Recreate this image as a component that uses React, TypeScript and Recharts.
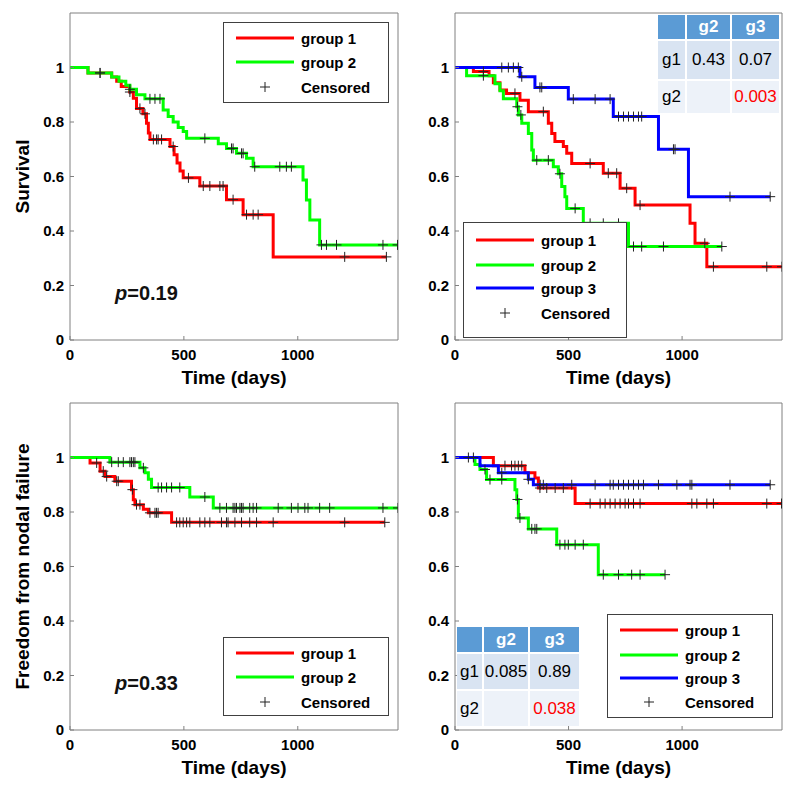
import React from "react";
import { ComposedChart, Line, Scatter, XAxis, YAxis, Legend } from "recharts";

// ---- data: [day, survival] step points ----

// overall survival, 2 groups (top left)
const osTwoG1 = [[0, 1], [79, 0.98], [183, 0.965], [205, 0.95], [225, 0.93], [262, 0.91], [278, 0.887], [292, 0.85], [320, 0.83], [336, 0.795], [344, 0.76], [351, 0.736], [439, 0.71], [457, 0.68], [470, 0.65], [483, 0.62], [497, 0.595], [570, 0.565], [687, 0.515], [760, 0.46], [892, 0.305], [1390, 0.305]];
const osTwoG2 = [[0, 1], [79, 0.98], [183, 0.965], [215, 0.95], [245, 0.935], [263, 0.92], [292, 0.9], [329, 0.885], [409, 0.844], [431, 0.82], [453, 0.8], [475, 0.78], [497, 0.765], [512, 0.74], [651, 0.72], [687, 0.703], [731, 0.685], [775, 0.667], [804, 0.636], [1023, 0.587], [1038, 0.514], [1053, 0.44], [1096, 0.349], [1440, 0.349]];
const osTwoG1Cens = [132, 263, 307, 329, 366, 380, 387, 402, 453, 520, 585, 614, 658, 672, 716, 775, 804, 826, 1206, 1389];
const osTwoG2Cens = [132, 263, 351, 373, 395, 592, 709, 716, 753, 760, 811, 921, 950, 972, 1104, 1126, 1170, 1374, 1438];

// overall survival, 3 groups (top right)
const osThreeG1 = [[0, 1], [81, 0.985], [150, 0.97], [169, 0.944], [198, 0.917], [227, 0.905], [286, 0.88], [323, 0.838], [411, 0.795], [426, 0.758], [440, 0.728], [477, 0.71], [492, 0.685], [514, 0.648], [653, 0.612], [727, 0.557], [793, 0.495], [1035, 0.428], [1057, 0.355], [1109, 0.269], [1440, 0.269]];
const osThreeG2 = [[0, 1], [51, 0.97], [176, 0.94], [198, 0.915], [213, 0.885], [272, 0.856], [279, 0.826], [294, 0.795], [323, 0.758], [338, 0.697], [345, 0.66], [433, 0.636], [455, 0.61], [470, 0.563], [484, 0.526], [492, 0.483], [565, 0.428], [764, 0.343], [1175, 0.343]];
const osThreeG3 = [[0, 1], [286, 0.966], [352, 0.927], [499, 0.884], [697, 0.82], [896, 0.7], [1028, 0.526], [1388, 0.526]];
const osThreeG1Cens = [125, 264, 389, 595, 675, 712, 756, 815, 1100, 1138, 1373, 1440];
const osThreeG2Cens = [125, 275, 290, 360, 411, 462, 529, 595, 653, 720, 786, 822, 918, 1175];
const osThreeG3Cens = [206, 235, 257, 279, 294, 374, 382, 521, 617, 683, 720, 742, 764, 786, 808, 822, 962, 969, 1211, 1388];

// freedom from nodal failure, 2 groups (bottom left)
const nfTwoG1 = [[0, 1], [88, 0.98], [132, 0.95], [154, 0.93], [197, 0.913], [270, 0.882], [278, 0.845], [285, 0.827], [322, 0.81], [344, 0.797], [446, 0.762], [1382, 0.762]];
const nfTwoG2 = [[0, 1], [175, 0.983], [307, 0.962], [329, 0.944], [344, 0.92], [358, 0.89], [526, 0.855], [629, 0.815], [1440, 0.815]];
const nfTwoG1Cens = [117, 146, 161, 205, 212, 274, 292, 307, 351, 373, 380, 387, 468, 482, 497, 512, 526, 570, 592, 614, 665, 687, 694, 724, 753, 789, 819, 892, 1206, 1382];
const nfTwoG2Cens = [183, 212, 234, 263, 270, 278, 285, 322, 387, 402, 424, 446, 482, 592, 658, 687, 716, 724, 731, 746, 753, 760, 789, 804, 819, 914, 972, 1001, 1031, 1045, 1096, 1140, 1374, 1440];

// freedom from nodal failure, 3 groups (bottom right)
const nfThreeG1 = [[0, 1], [169, 0.97], [308, 0.944], [352, 0.925], [367, 0.888], [529, 0.831], [1440, 0.831]];
const nfThreeG2 = [[0, 1], [88, 0.974], [110, 0.956], [139, 0.919], [264, 0.882], [272, 0.846], [279, 0.778], [323, 0.738], [448, 0.68], [631, 0.57], [925, 0.57]];
const nfThreeG3 = [[0, 1], [110, 0.97], [191, 0.944], [323, 0.92], [345, 0.9], [1388, 0.9]];
const nfThreeG1Cens = [220, 249, 264, 279, 294, 374, 404, 441, 477, 595, 639, 661, 683, 705, 727, 749, 764, 786, 815, 1043, 1065, 1109, 1138, 1373, 1438];
const nfThreeG2Cens = [132, 154, 206, 275, 286, 338, 352, 360, 462, 484, 499, 529, 565, 653, 720, 778, 815, 925];
const nfThreeG3Cens = [59, 81, 206, 323, 375, 389, 514, 617, 683, 697, 720, 742, 764, 786, 808, 830, 896, 977, 1035, 1043, 1211, 1388];

// log-rank p values
const pTwoOS = "0.19";
const pTwoNF = "0.33";
const tableCols = ["", "g2", "g3"];
const osPairwise = [["g1", "0.43", "0.07"], ["g2", "", "0.003"]];
const nfPairwise = [["g1", "0.085", "0.89"], ["g2", "", "0.038"]];

const X_TICKS = [0, 500, 1000];
const Y_TICKS = [0, 0.2, 0.4, 0.6, 0.8, 1];
const T_MAX = 1440;

const FONT = '"Liberation Sans", Arial, Helvetica, sans-serif';
const COLORS = ["#ff0000", "#00ff00", "#0000ff"];
const BOX = "#808080";

const toPts = (curve: number[][]) => curve.map(([t, s]) => ({ t, s }));

// survival value of the curve at time t (step function)
const valueAt = (curve: number[][], t: number) => {
    let s = curve[0][1];
    for (const [ct, cs] of curve) if (ct <= t) s = cs;
    return s;
};

const plusShape = (p: any) => (
    <path d={`M${p.cx - 5},${p.cy}h10M${p.cx},${p.cy - 5}v10`} stroke="#222" strokeWidth={1} fill="none" />
);

function LegendBox({ w, h, rows, groups }: { w: number; h: number; rows: number[]; groups: number }) {
    return (
        <svg width={w} height={h} style={{ display: "block" }}>
            <rect x={0.5} y={0.5} width={w - 1} height={h - 1} fill="#fff" stroke="#404040" />
            {rows.map((ry, i) => (
                <g key={i} fontFamily={FONT} fontWeight="bold" fontSize={15}>
                    {i < groups ? (
                        <line x1={13} x2={71} y1={ry} y2={ry} stroke={COLORS[i]} strokeWidth={3} />
                    ) : (
                        <path d={`M37,${ry}h10M42,${ry - 5}v10`} stroke="#222" strokeWidth={1} />
                    )}
                    <text x={78} y={ry} dominantBaseline="central" fill="#000">
                        {i < groups ? `group ${i + 1}` : "Censored"}
                    </text>
                </g>
            ))}
        </svg>
    );
}

type Box = { left: number; top: number; w: number; h: number; x0: number; x1: number; y0: number; y1: number };

function KMPanel({ box, curves, cens, yLabel, legend }: {
    box: Box; curves: number[][][]; cens: number[][]; yLabel?: string;
    legend: { x: number; y: number; w: number; h: number; rows: number[] };
}) {
    const { left, top, w, h, x0, x1, y0, y1 } = box;
    const margin = { left: x0 - left - 1, right: left + w - x1 - 1, top: y0 - top - 1, bottom: top + h - y1 - 1 };
    const marks = curves.flatMap((c, i) => cens[i].map((t) => ({ t, s: valueAt(c, t) })));
    const cx = (x0 + x1) / 2 - left;
    const cy = (y0 + y1) / 2 - top;
    const tickStyle = { fill: "#000", fontSize: 15, fontWeight: "bold", fontFamily: FONT };

    return (
        <div style={{ position: "absolute", left, top }}>
            <ComposedChart width={w} height={h} margin={margin}>
                <XAxis
                    dataKey="t" type="number" domain={[0, T_MAX]} ticks={X_TICKS} interval={0}
                    allowDataOverflow height={1} tickSize={-4} tickMargin={13} stroke={BOX} tick={tickStyle}
                    label={{
                        content: () => (
                            <text x={cx} y={y1 - top + 44} textAnchor="middle" fontFamily={FONT} fontWeight="bold" fontSize={19} fill="#000">
                                Time (days)
                            </text>
                        ),
                    }}
                />
                <XAxis xAxisId="top" orientation="top" type="number" domain={[0, T_MAX]} ticks={X_TICKS} height={1} tickSize={-4} tick={false} stroke={BOX} />
                <YAxis
                    dataKey="s" type="number" domain={[0, 1.2]} ticks={Y_TICKS} interval={0}
                    allowDataOverflow width={1} tickSize={-4} tickMargin={10} stroke={BOX} tick={tickStyle}
                    label={yLabel ? {
                        content: () => (
                            <text x={22} y={cy} transform={`rotate(-90 22 ${cy})`} textAnchor="middle" dominantBaseline="central"
                                fontFamily={FONT} fontWeight="bold" fontSize={19} fill="#000">
                                {yLabel}
                            </text>
                        ),
                    } : undefined}
                />
                <YAxis yAxisId="right" orientation="right" type="number" domain={[0, 1.2]} ticks={Y_TICKS} width={1} tickSize={-4} tick={false} stroke={BOX} />
                {curves.map((c, i) => (
                    <Line key={i} data={toPts(c)} dataKey="s" type="stepAfter" stroke={COLORS[i]} strokeWidth={3}
                        dot={false} activeDot={false} isAnimationActive={false} />
                ))}
                <Scatter data={marks} dataKey="s" shape={plusShape} isAnimationActive={false} />
                <Legend
                    layout="horizontal" verticalAlign="middle" align="center"
                    wrapperStyle={{ left: legend.x, top: legend.y, width: legend.w, height: legend.h }}
                    content={() => <LegendBox w={legend.w} h={legend.h} rows={legend.rows} groups={curves.length} />}
                />
            </ComposedChart>
        </div>
    );
}

function PTable({ left, top, widths, heights, rows }: { left: number; top: number; widths: number[]; heights: number[]; rows: string[][] }) {
    const cell = { fontFamily: FONT, fontSize: 17, padding: 0, textAlign: "center" as const };
    return (
        <table style={{ position: "absolute", left, top, borderCollapse: "separate", borderSpacing: 2 }}>
            <tbody>
                <tr>
                    {tableCols.map((c, j) => (
                        <td key={j} style={{ ...cell, width: widths[j], height: heights[0], background: "#5b9bd5", color: "#fff", fontWeight: "bold" }}>{c}</td>
                    ))}
                </tr>
                {rows.map((r, i) => (
                    <tr key={i}>
                        {r.map((v, j) => (
                            <td key={j} style={{ ...cell, width: widths[j], height: heights[i + 1], background: i === 0 ? "#d9e4f2" : "#edf2f9", color: i === 1 && j === 2 ? "#ff0000" : "#000" }}>{v}</td>
                        ))}
                    </tr>
                ))}
            </tbody>
        </table>
    );
}

const pStyle = { position: "absolute" as const, fontFamily: FONT, fontWeight: "bold", fontSize: 20, lineHeight: "20px", color: "#111" };

export default function App() {
    return (
        <div style={{ position: "absolute", left: 0, top: 0, width: 800, height: 792, background: "#fff" }}>
            <KMPanel
                box={{ left: 0, top: 0, w: 400, h: 395, x0: 70, x1: 398, y0: 13, y1: 340 }}
                curves={[osTwoG1, osTwoG2]} cens={[osTwoG1Cens, osTwoG2Cens]} yLabel="Survival"
                legend={{ x: 223, y: 22, w: 166, h: 81, rows: [16, 40, 65] }}
            />
            <KMPanel
                box={{ left: 400, top: 0, w: 400, h: 395, x0: 455, x1: 782, y0: 13, y1: 340 }}
                curves={[osThreeG1, osThreeG2, osThreeG3]} cens={[osThreeG1Cens, osThreeG2Cens, osThreeG3Cens]}
                legend={{ x: 63, y: 222, w: 164, h: 116, rows: [18, 43, 66, 91] }}
            />
            <KMPanel
                box={{ left: 0, top: 392, w: 400, h: 400, x0: 70, x1: 398, y0: 403, y1: 730 }}
                curves={[nfTwoG1, nfTwoG2]} cens={[nfTwoG1Cens, nfTwoG2Cens]} yLabel="Freedom from nodal failure"
                legend={{ x: 223, y: 245, w: 166, h: 79, rows: [16, 40, 65] }}
            />
            <KMPanel
                box={{ left: 400, top: 392, w: 400, h: 400, x0: 455, x1: 782, y0: 403, y1: 730 }}
                curves={[nfThreeG1, nfThreeG2, nfThreeG3]} cens={[nfThreeG1Cens, nfThreeG2Cens, nfThreeG3Cens]}
                legend={{ x: 207, y: 222, w: 166, h: 104, rows: [16, 41, 64, 88] }}
            />
            <PTable left={656} top={13} widths={[27, 43, 47]} heights={[24, 38, 32]} rows={osPairwise} />
            <PTable left={455} top={625} widths={[25, 44, 49]} heights={[25, 35, 35]} rows={nfPairwise} />
            <div style={{ ...pStyle, left: 115, top: 283 }}><i>p</i>={pTwoOS}</div>
            <div style={{ ...pStyle, left: 115, top: 673 }}><i>p</i>={pTwoNF}</div>
        </div>
    );
}
